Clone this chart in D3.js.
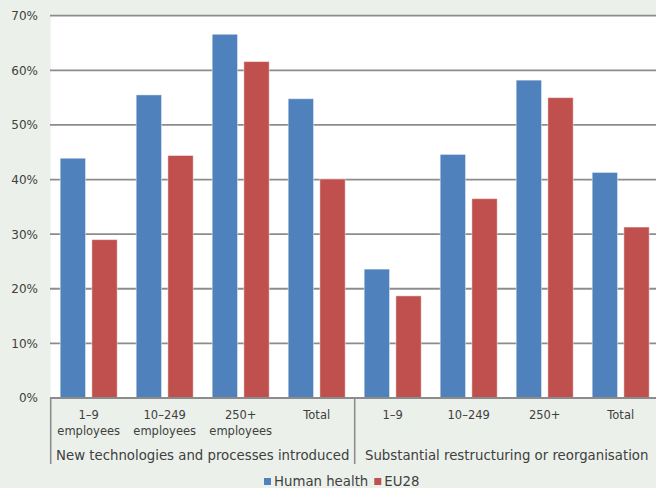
<!DOCTYPE html>
<html>
<head>
<meta charset="utf-8">
<script src="https://cdn.jsdelivr.net/npm/d3@7"></script>
<style>
  html, body { margin: 0; padding: 0; background: #ebf1ea; }
  svg { display: block; font-family: "DejaVu Sans", Verdana, sans-serif; }
</style>
</head>
<body>
<svg id="chart" width="656" height="488"></svg>
<script>
// Share of enterprises (%) by company size
const sizeLabels = [
  ["1–9", "employees"], ["10–249", "employees"], ["250+", "employees"], ["Total"],
  ["1–9"], ["10–249"], ["250+"], ["Total"]
];
const groupLabels = ["New technologies and processes introduced", "Substantial restructuring or reorganisation"];
const seriesNames = ["Human health", "EU28"];
const humanHealth = [43.9, 55.5, 66.6, 54.8, 23.6, 44.6, 58.2, 41.3];
const eu28 = [29.0, 44.4, 61.6, 40.1, 18.7, 36.5, 55.0, 31.3];
const yTicks = [0, 10, 20, 30, 40, 50, 60, 70];

const colors = ["#4f81bd", "#c0504d"];
const W = 656, H = 488;
const plotLeft = 50.7, plotTop = 15.7, plotBottom = 398;
const plotRight = plotLeft + 8 * 76;

const svg = d3.select("#chart");

const rows = sizeLabels.map((lab, i) => ({
  id: i, lab, values: [humanHealth[i], eu28[i]]
}));

const y = d3.scaleLinear().domain([0, 70]).range([plotBottom, plotTop]);
const x0 = d3.scaleBand().domain(rows.map(d => d.id)).range([plotLeft, plotRight])
  .paddingInner(0.25).paddingOuter(0.125);
const x1 = d3.scaleBand().domain(seriesNames).range([0, x0.bandwidth()]).paddingInner(0.2);

// plot area
svg.append("rect").attr("x", plotLeft).attr("y", plotTop)
  .attr("width", W - plotLeft).attr("height", plotBottom - plotTop)
  .attr("fill", "#ffffff");

// gridlines
svg.append("g").selectAll("line").data(yTicks).join("line")
  .attr("x1", 50).attr("x2", W)
  .attr("y1", d => y(d)).attr("y2", d => y(d))
  .attr("stroke", "#8c8c8c").attr("stroke-width", 1.8);

// y tick labels
const yAxis = d3.axisLeft(y).tickValues(yTicks).tickFormat(d => d + "%").tickSize(0).tickPadding(0);
const ya = svg.append("g").attr("transform", "translate(38,0)").call(yAxis);
ya.select(".domain").remove();
ya.selectAll("text").attr("font-size", 12).attr("fill", "#404040")
  .attr("font-family", "DejaVu Sans, Verdana, sans-serif");

// bars
const g = svg.append("g").selectAll("g").data(rows).join("g")
  .attr("transform", d => `translate(${x0(d.id)},0)`);
g.selectAll("rect").data(d => d.values.map((v, k) => ({ k, v }))).join("rect")
  .attr("x", d => x1(seriesNames[d.k]))
  .attr("width", x1.bandwidth())
  .attr("y", d => y(d.v))
  .attr("height", d => plotBottom - y(d.v))
  .attr("fill", d => colors[d.k])
  .attr("stroke", "rgba(255,255,255,0.45)")
  .attr("stroke-width", 1);

// category axis
const axisColor = "#8c8c8c";
svg.append("line").attr("x1", 50).attr("x2", W).attr("y1", plotBottom).attr("y2", plotBottom)
  .attr("stroke", axisColor).attr("stroke-width", 1.8);
svg.append("g").selectAll("line").data([0, 4, 8]).join("line")
  .attr("x1", d => plotLeft + d * x0.step()).attr("x2", d => plotLeft + d * x0.step())
  .attr("y1", plotBottom).attr("y2", 464)
  .attr("stroke", axisColor).attr("stroke-width", 1.6);

const lab = svg.append("g").selectAll("text").data(rows).join("text")
  .attr("text-anchor", "middle")
  .attr("font-size", 11.5).attr("fill", "#404040");
lab.selectAll("tspan").data(d => d.lab.map(t => ({ t, cx: x0(d.id) + x0.bandwidth() / 2 }))).join("tspan")
  .attr("x", d => d.cx)
  .attr("y", (d, i) => i === 0 ? 419 : 435)
  .text(d => d.t);

svg.append("g").selectAll("text").data(groupLabels).join("text")
  .attr("x", (d, i) => plotLeft + (i * 4 + 2) * x0.step())
  .attr("y", 460)
  .attr("text-anchor", "middle")
  .attr("font-size", 13.3).attr("fill", "#404040")
  .text(d => d);

// legend
const legend = svg.append("g").attr("transform", "translate(264,0)");
let lx = 0;
seriesNames.forEach((name, k) => {
  legend.append("rect").attr("x", lx).attr("y", 478).attr("width", 7).attr("height", 7)
    .attr("fill", colors[k]);
  const t = legend.append("text").attr("x", lx + 10).attr("y", 486)
    .attr("font-size", 13.3).attr("fill", "#404040").text(name);
  lx += 10 + t.node().getComputedTextLength() + 6;
});
</script>
</body>
</html>
